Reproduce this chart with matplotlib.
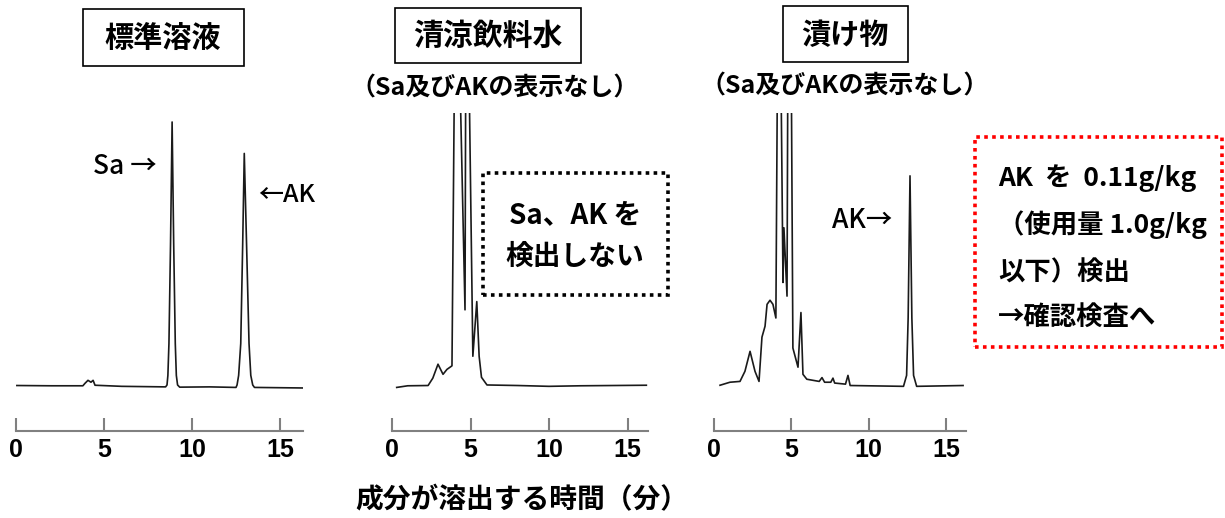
import matplotlib
matplotlib.use('Agg')
import matplotlib.pyplot as plt
from matplotlib.patches import Rectangle

plt.rcParams['font.family'] = ['Noto Sans CJK JP', 'DejaVu Sans']

# 保持時間（分）と信号強度（ベースライン=0, 上端=100）
t_std = [0.05, 2.0, 3.8, 3.92, 4.09, 4.26, 4.38, 4.49, 6.0, 8.5, 8.58, 8.63, 8.69, 8.78, 8.87,
         8.96, 9.05, 9.11, 9.18, 9.3, 11.0, 12.5, 12.56, 12.65, 12.77, 12.88, 12.97, 13.1,
         13.24, 13.34, 13.45, 13.55, 16.3]
s_std = [0.3, 0.2, 0.2, 1.1, 2.2, 1.5, 2.2, 0.4, 0.0, -0.2, 0.5, 4.0, 15.7, 52, 96.7,
         52, 15.7, 4.0, 0.5, -0.3, -0.2, -0.4, 0.5, 4.0, 15.7, 52, 85.2, 52,
         15.7, 4.0, 0.5, -0.4, -0.6]

t_drink = [0.3, 1.0, 2.3, 2.6, 2.93, 3.25, 3.5, 3.82, 4.0, 4.15, 4.65, 4.72, 4.80, 5.15,
           5.4, 5.55, 5.7, 6.05, 8.0, 10.0, 12.0, 16.2]
s_drink = [-0.4, 0.2, 0.3, 3.0, 8.1, 4.4, 6.2, 7.5, 130, 160, 28, 160, 160, 11,
           31, 11, 3.3, 0.5, 0.3, 0.0, 0.2, 0.4]

t_pickle = [0.39, 1.03, 1.68, 2.0, 2.33, 2.65, 2.91, 3.1, 3.3, 3.43, 3.62, 3.81, 4.0, 4.15,
            4.25, 4.46, 4.52, 4.72, 4.80, 4.95, 5.1, 5.43, 5.62, 5.75, 6.0, 6.8, 6.98,
            7.15, 7.55, 7.69, 7.8, 8.5, 8.66, 8.8, 12.25, 12.45, 12.55, 12.67, 12.79,
            12.9, 13.1, 16.1]
s_pickle = [0.4, 1.5, 1.8, 5.5, 12.8, 5.5, 1.8, 18, 22, 30, 31.5, 30, 25, 160,
            160, 38, 58, 33, 160, 160, 14, 7, 27, 4.4, 2.6, 1.8, 3.2,
            1.5, 1.5, 3.0, 1.2, 0.8, 4.0, 0.3, 0.0, 4.0, 25, 77, 25,
            4.0, 0.0, 0.3]

x_ticks = [0, 5, 10, 15]

W, H = 1225, 518
fig = plt.figure(figsize=(W / 100, H / 100), dpi=100)


def fx(x):
    return x / W


def fy(y):
    return 1 - y / H


def chrom(left_px, px_per_min, t, s):
    top, bottom = 113, 400
    width = 16.3 * px_per_min
    ax = fig.add_axes([fx(left_px), fy(bottom), width / W, (bottom - top) / H])
    ax.plot(t, s, color='#1a1a1a', lw=1.2)
    ax.set_xlim(0, 16.3)
    ax.set_ylim(-5, 100)
    ax.set_facecolor('none')
    for k in ['left', 'top', 'right']:
        ax.spines[k].set_visible(False)
    ax.spines['bottom'].set_position(('outward', 22.3))
    ax.spines['bottom'].set_color('#808080')
    ax.spines['bottom'].set_linewidth(1.5)
    ax.set_yticks([])
    ax.set_xticks(x_ticks)
    ax.set_xticklabels([str(v) for v in x_ticks], fontfamily='Liberation Sans',
                       fontweight='bold', fontsize=18)
    ax.tick_params(axis='x', direction='in', length=9.4, width=1.5, color='#808080', pad=5)
    return ax


chrom(16, 17.6, t_std, s_std)
chrom(392, 15.7, t_drink, s_drink)
chrom(714, 15.47, t_pickle, s_pickle)


def box(x0, y0, x1, y1, **kw):
    fig.add_artist(Rectangle((fx(x0), fy(y1)), (x1 - x0) / W, (y1 - y0) / H,
                             transform=fig.transFigure, fill=False, **kw))


def label(x, y, s, size, ha='center', weight='bold'):
    fig.text(fx(x), fy(y), s, ha=ha, va='center', fontsize=size, fontweight=weight)


# 見出し
box(83, 9, 244, 66, lw=1.2, edgecolor='black')
box(395, 8, 581, 63, lw=1.2, edgecolor='black')
box(783, 6, 908, 62, lw=1.2, edgecolor='black')
label(163, 38, '標準溶液', 21)
label(488, 36, '清涼飲料水', 21.5)
label(845, 35, '漬け物', 21)
label(495, 88, '（Sa及びAKの表示なし）', 18)
label(845, 87, '（Sa及びAKの表示なし）', 18)

# ピーク表示
label(157, 167, 'Sa →', 19, ha='right', weight='medium')
label(258, 195, '←AK', 18, ha='left', weight='medium')
label(832, 220, 'AK→', 19, ha='left', weight='medium')

# 判定コメント
box(483, 173, 668, 295, lw=2.6, edgecolor='black', linestyle=(0, (1, 1.2)))
label(575, 215, 'Sa、AK を', 20)
label(575, 257, '検出しない', 20)

box(975, 137, 1222, 347, lw=2.6, edgecolor='red', linestyle=(0, (1, 1.2)))
label(998, 178, 'AK  を  0.11g/kg', 19, ha='left')
label(998, 225, '（使用量 1.0g/kg', 19, ha='left')
label(998, 273, '以下）検出', 19, ha='left')
label(998, 317, '→確認検査へ', 19, ha='left')

label(522, 500, '成分が溶出する時間（分）', 20)

fig.savefig('out.png', dpi=100)
